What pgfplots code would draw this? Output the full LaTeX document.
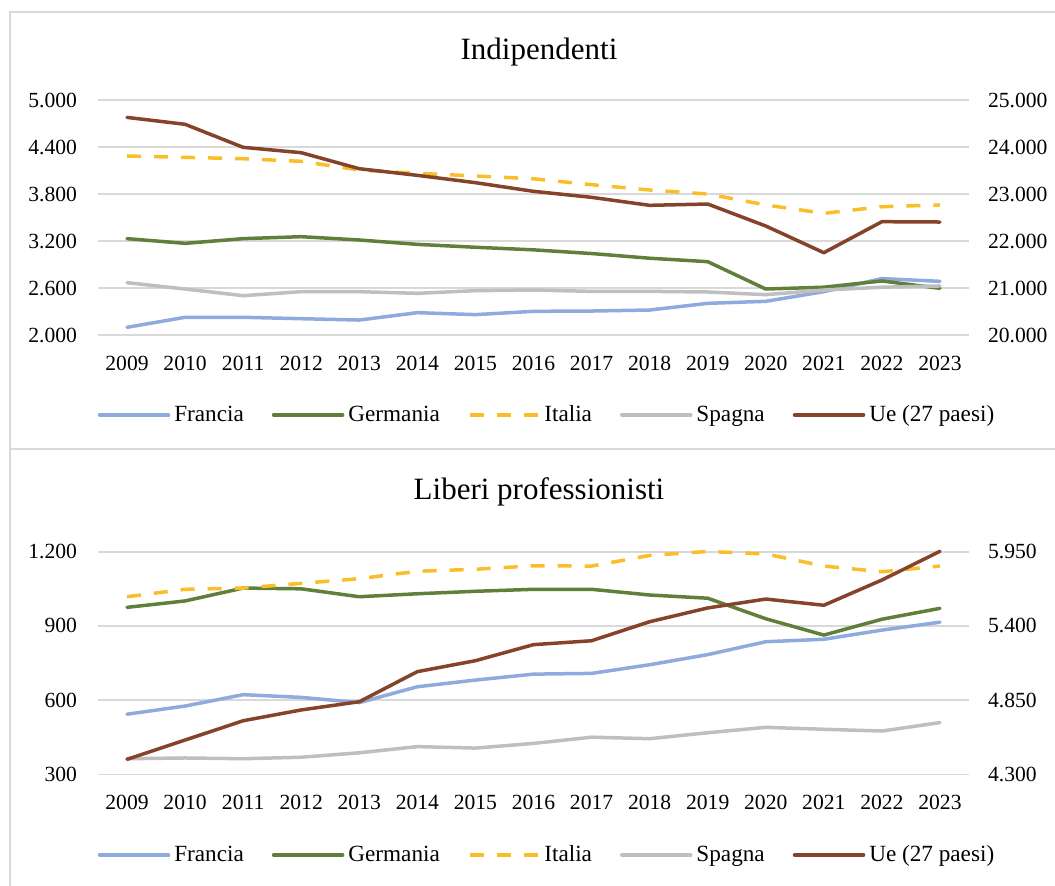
\documentclass[border=0pt]{standalone}
\usepackage{fontspec}
\setmainfont{Liberation Serif}
\usepackage{pgfplots}
\usepackage{pgfplotstable}
\pgfplotsset{compat=1.18}
\definecolor{cfr}{HTML}{8FAADC}
\definecolor{cge}{HTML}{5F7F3B}
\definecolor{cit}{HTML}{F9BE2A}
\definecolor{csp}{HTML}{BFBFBF}
\definecolor{cue}{HTML}{85432A}
\definecolor{gridc}{HTML}{D9D9D9}

\pgfplotstableread{
year fr ge it sp ue
2009 2098 3230 4285 2668 24630
2010 2226 3170 4268 2587 24483
2011 2226 3230 4250 2502 23993
2012 2208 3255 4217 2553 23879
2013 2191 3213 4106 2553 23538
2014 2285 3157 4064 2532 23397
2015 2260 3120 4030 2566 23241
2016 2302 3087 3994 2574 23057
2017 2306 3040 3919 2557 22929
2018 2319 2980 3851 2557 22759
2019 2404 2936 3800 2549 22787
2020 2430 2587 3660 2515 22319
2021 2553 2610 3553 2574 21751
2022 2720 2690 3638 2610 22411
2023 2685 2596 3660 2626 22404
}\indip

\pgfplotstableread{
year fr ge it sp ue
2009 543 975 1018 363 4411
2010 576 1001 1048 366 4554
2011 622 1053 1053 363 4697
2012 611 1050 1072 369 4777
2013 590 1018 1091 387 4838
2014 654 1030 1121 412 5061
2015 681 1040 1129 406 5142
2016 705 1048 1143 425 5261
2017 708 1048 1142 450 5290
2018 743 1025 1185 444 5431
2019 784 1012 1201 468 5533
2020 836 929 1191 490 5599
2021 846 863 1142 482 5553
2022 883 927 1119 475 5740
2023 915 971 1142 509 5953
}\liberi

\pgfplotsset{
  sfr/.style={color=cfr, line width=1.75pt, line join=round, line cap=round},
  sge/.style={color=cge, line width=1.75pt, line join=round, line cap=round},
  sit/.style={color=cit, line width=1.75pt, line join=round, dash pattern=on 7pt off 6.5pt},
  ssp/.style={color=csp, line width=1.75pt, line join=round, line cap=round},
  sue/.style={color=cue, line width=1.75pt, line join=round, line cap=round},
  cmn/.style={scale only axis, width=435.5pt, xmin=2008.5, xmax=2023.5,
    anchor=south west, axis line style={draw=none}, tick style={draw=none},
    scaled ticks=false, clip=false,
    tick label style={font=\fontsize{10.8}{13}\selectfont},
    /pgf/number format/assume math mode=true},
  leftax/.style={cmn, xtick={2009,2010,...,2023},
    xticklabel style={/pgf/number format/1000 sep={}, yshift=-7pt},
    yticklabel style={/pgf/number format/1000 sep={.}, xshift=-7pt},
    ymajorgrids, major grid style={draw=gridc, line width=0.8pt},
    legend columns=5,
    legend image code/.code={\draw[##1] (0pt,0pt) -- (34.5pt,0pt);},
    legend style={draw=none, fill=none, anchor=center,
      font=\fontsize{11.6}{14}\selectfont,
      /tikz/every odd column/.append style={column sep=0pt},
      /tikz/every even column/.append style={column sep=12pt}}},
  rightax/.style={cmn, axis y line*=right, axis x line=none,
    yticklabel style={/pgf/number format/1000 sep={.}, xshift=6pt}},
}

\begin{document}
\begin{tikzpicture}
\path[use as bounding box] (0pt,0pt) rectangle (527.5pt,442.5pt);
\draw[gridc, line width=1pt] (5pt,436.5pt) rectangle (540pt,218pt);
\draw[gridc, line width=1pt] (5pt,218pt) rectangle (540pt,-10pt);

\node[font=\fontsize{15.5}{18}\selectfont] at (269.5pt,416.5pt) {Indipendenti};
\node[font=\fontsize{15.5}{18}\selectfont] at (269.5pt,196.5pt) {Liberi professionisti};

% ---------- Top panel ----------
\begin{axis}[leftax, at={(49pt,275pt)}, height=117.5pt,
  ymin=2000, ymax=5000, ytick={2000,2600,3200,3800,4400,5000},
  legend style={at={(0.5167,-0.340)}}]
\addplot[sfr] table[x=year,y=fr]{\indip};
\addplot[sge] table[x=year,y=ge]{\indip};
\addplot[sit] table[x=year,y=it]{\indip};
\addplot[ssp] table[x=year,y=sp]{\indip};
\addlegendimage{sue}
\legend{Francia,Germania,Italia,Spagna,Ue (27 paesi)}
\end{axis}
\begin{axis}[rightax, at={(49pt,275pt)}, height=117.5pt,
  ymin=20000, ymax=25000, ytick={20000,21000,22000,23000,24000,25000}]
\addplot[sue] table[x=year,y=ue]{\indip};
\end{axis}

% ---------- Bottom panel ----------
\begin{axis}[leftax, at={(49pt,55.35pt)}, height=111.3pt,
  ymin=300, ymax=1200, ytick={300,600,900,1200},
  legend style={at={(0.5167,-0.3625)}}]
\addplot[sfr] table[x=year,y=fr]{\liberi};
\addplot[sge] table[x=year,y=ge]{\liberi};
\addplot[sit] table[x=year,y=it]{\liberi};
\addplot[ssp] table[x=year,y=sp]{\liberi};
\addlegendimage{sue}
\legend{Francia,Germania,Italia,Spagna,Ue (27 paesi)}
\end{axis}
\begin{axis}[rightax, at={(49pt,55.35pt)}, height=111.3pt,
  ymin=4300, ymax=5950, ytick={4300,4850,5400,5950}]
\addplot[sue] table[x=year,y=ue]{\liberi};
\end{axis}
\end{tikzpicture}
\end{document}
